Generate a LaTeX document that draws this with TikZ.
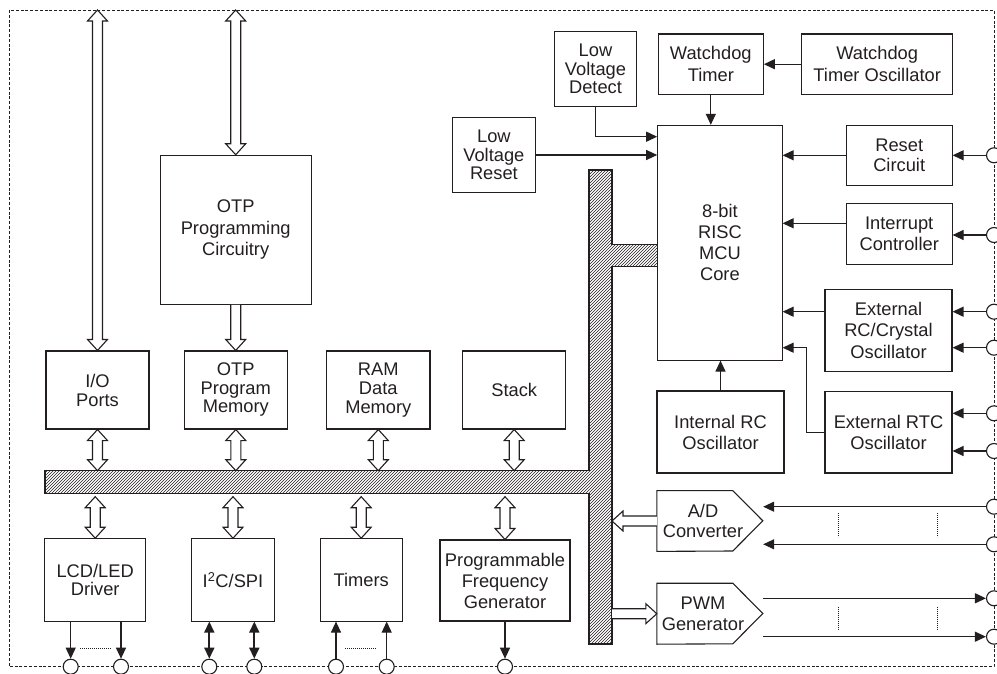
\documentclass[tikz,border=0pt]{standalone}
\usepackage{fontspec}
\setmainfont{Liberation Sans}
\usetikzlibrary{arrows.meta,patterns,calc}
\definecolor{ink}{HTML}{231F20}
\tikzset{
  blk/.style={draw=ink, line width=1.1pt, align=center, inner sep=1pt, text=ink,
    font=\fontsize{18.3}{20.5}\selectfont},
  txt/.style={align=center, inner sep=1pt, text=ink, font=\fontsize{18.3}{20.5}\selectfont},
  brd/.style={draw=ink, line width=0.9pt, dash pattern=on 3pt off 1.8pt},
  bus/.style={draw=ink, line width=1.1pt, pattern=north east lines, pattern color=ink},
  hol/.style={draw=ink, fill=white, line width=1.1pt, line join=miter},
  sarr/.style={draw=ink, line width=1.2pt, ->},
  darr/.style={draw=ink, line width=1.7pt, <->},
  term/.style={circle, draw=ink, fill=white, line width=1.1pt, minimum size=15, inner sep=0pt},
  dots/.style={draw=ink, line width=0.8pt, dash pattern=on 0.8pt off 1.2pt},
  >={Triangle[length=11pt,width=10pt]}
}
% vertical hollow arrow, heads at both ends (#1 top, #2 bottom)
\newcommand\vdbl[2]{\draw[hol] let \p1=(#1), \p2=(#2) in
  (\x1,\y1) -- (\x1-10pt,\y1-11pt) -- (\x1-5pt,\y1-11pt) -- (\x1-5pt,\y2+11pt)
  -- (\x1-10pt,\y2+11pt) -- (\x1,\y2) -- (\x1+10pt,\y2+11pt) -- (\x1+5pt,\y2+11pt)
  -- (\x1+5pt,\y1-11pt) -- (\x1+10pt,\y1-11pt) -- cycle;}
% vertical hollow arrow, head at bottom
\newcommand\vdn[2]{\draw[hol] let \p1=(#1), \p2=(#2) in
  (\x1-5pt,\y1) -- (\x1-5pt,\y2+11pt) -- (\x1-10pt,\y2+11pt) -- (\x1,\y2)
  -- (\x1+10pt,\y2+11pt) -- (\x1+5pt,\y2+11pt) -- (\x1+5pt,\y1);}
% horizontal hollow arrow, tip to the left (#1 tail, #2 tip)
\newcommand\hlt[2]{\draw[hol] let \p1=(#1), \p2=(#2) in
  (\x1,\y1+5pt) -- (\x2+11pt,\y1+5pt) -- (\x2+11pt,\y1+10pt) -- (\x2,\y1)
  -- (\x2+11pt,\y1-10pt) -- (\x2+11pt,\y1-5pt) -- (\x1,\y1-5pt);}
% horizontal hollow arrow, tip to the right (#1 tail, #2 tip)
\newcommand\hrt[2]{\draw[hol] let \p1=(#1), \p2=(#2) in
  (\x1,\y1+5pt) -- (\x2-11pt,\y1+5pt) -- (\x2-11pt,\y1+10pt) -- (\x2,\y1)
  -- (\x2-11pt,\y1-10pt) -- (\x2-11pt,\y1-5pt) -- (\x1,\y1-5pt);}
\begin{document}
\begin{tikzpicture}[x=1pt,y=-1pt]
\useasboundingbox (0,0) rectangle (997,674);
\coordinate (tb) at (0,10);
\coordinate (bt) at (0,470.7);
\coordinate (bb) at (0,493.7);
\coordinate (be) at (612,0);
\coordinate (lvdy) at (0,136.7);
\coordinate (icy) at (0,223.3);
\coordinate (rtcbend) at (806.7,347.7);

% outer dashed border
\draw[brd] (9,10) rectangle (994,666.7);

% internal bus
\draw[bus] (45,470.7) -- (589,470.7) -- (589,170) -- (612,170) -- (612,244.3)
  -- (657.7,244.3) -- (657.7,266.7) -- (612,266.7) -- (612,644) -- (589,644)
  -- (589,493.7) -- (45,493.7) -- cycle;

% blocks
\node[blk, minimum width=151.3, minimum height=149, font=\fontsize{18.3}{21.5}\selectfont] (otpprog) at (235.7,229.8) {OTP\\Programming\\Circuitry};
\node[blk, minimum width=103, minimum height=78, font=\fontsize{18.3}{19}\selectfont] (io) at (97.5,390) {I/O\\Ports};
\node[blk, minimum width=103, minimum height=78, font=\fontsize{18.3}{18.5}\selectfont] (otpmem) at (235.8,390) {OTP\\Program\\Memory};
\node[blk, minimum width=103.3, minimum height=78, font=\fontsize{18.3}{19}\selectfont] (ram) at (378.3,390) {RAM\\Data\\Memory};
\node[blk, minimum width=103, minimum height=78] (stack) at (514.2,390) {Stack};
\node[blk, minimum width=101, minimum height=82.3, font=\fontsize{18.3}{17.5}\selectfont] (lcd) at (95.2,579.9) {LCD/LED\\Driver};
\node[blk, minimum width=82.6, minimum height=82.3] (i2c) at (233,579.9) {I\textsuperscript{2}C/SPI};
\node[blk, minimum width=82.3, minimum height=82.3] (timers) at (361.2,579.9) {Timers};
\node[blk, minimum width=130, minimum height=81, font=\fontsize{18.3}{21}\selectfont] (pfg) at (505,580.5) {Programmable\\Frequency\\Generator};
\node[blk, minimum width=82.4, minimum height=75.4, font=\fontsize{18.3}{18.3}\selectfont] (lvd) at (595.5,69) {Low\\Voltage\\Detect};
\node[blk, minimum width=82.3, minimum height=75.4, font=\fontsize{18.3}{18.3}\selectfont] (lvr) at (493.9,155) {Low\\Voltage\\Reset};
\node[blk, minimum width=105, minimum height=60.3, font=\fontsize{18.3}{22.5}\selectfont] (wdt) at (710.8,64.2) {Watchdog\\Timer};
\node[blk, minimum width=151, minimum height=60.3, font=\fontsize{18.3}{22}\selectfont] (wdtosc) at (877.2,64.2) {Watchdog\\Timer Oscillator};
\node[blk, minimum width=124.3, minimum height=234.7, font=\fontsize{18.3}{21}\selectfont] (core) at (719.9,242.7) {8-bit\\RISC\\MCU\\Core};
\node[blk, minimum width=105.7, minimum height=60] (reset) at (899.2,155.3) {Reset\\Circuit};
\node[blk, minimum width=105.7, minimum height=60.7] (intc) at (899.2,233.7) {Interrupt\\Controller};
\node[blk, minimum width=127, minimum height=81.7, font=\fontsize{18.3}{21.5}\selectfont] (extrc) at (888.5,330.2) {External\\RC/Crystal\\Oscillator};
\node[blk, minimum width=127, minimum height=82, font=\fontsize{18.3}{21}\selectfont] (intrc) at (720.5,432) {Internal RC\\Oscillator};
\node[blk, minimum width=127, minimum height=81.3, font=\fontsize{18.3}{21}\selectfont] (rtc) at (888.5,432.3) {External RTC\\Oscillator};

% pentagon blocks
\node[txt, minimum width=92, minimum height=60.4] (ad) at (703,521) {A/D\\Converter};
\draw[draw=ink, line width=1.1pt, line join=miter] (ad.north west) -- ++(76,0) -- ++(30,30.2) -- ++(-30,30.2) -- (ad.south west) -- cycle;
\coordinate (adtip) at ($(ad.east)+(14,0)$);
\node[txt, minimum width=92, minimum height=60.6] (pwm) at (703,613.7) {PWM\\Generator};
\draw[draw=ink, line width=1.1pt, line join=miter] (pwm.north west) -- ++(76,0) -- ++(30,30.3) -- ++(-30,30.3) -- (pwm.south west) -- cycle;
\coordinate (pwmtip) at ($(pwm.east)+(14,0)$);

% hollow bus arrows
\vdbl{io.north |- tb}{io.north}
\vdbl{otpprog.north |- tb}{otpprog.north}
\vdn{otpprog.south}{otpmem.north}
\vdbl{io.south}{io.south |- bt}
\vdbl{otpmem.south}{otpmem.south |- bt}
\vdbl{ram.south}{ram.south |- bt}
\vdbl{stack.south}{stack.south |- bt}
\vdbl{$(lcd.north |- bb)+(0,3)$}{lcd.north}
\vdbl{$(i2c.north |- bb)+(0,3)$}{i2c.north}
\vdbl{$(timers.north |- bb)+(0,3)$}{timers.north}
\vdbl{$(pfg.north |- bb)+(0,3)$}{pfg.north}
\hlt{ad.west}{be |- ad.west}
\hrt{be |- pwm.west}{pwm.west}

% bottom terminals
\node[term] (b1) at (70.7,666.7) {};
\node[term] (b2) at (121,666.7) {};
\node[term] (b3) at (209.3,666.7) {};
\node[term] (b4) at (254.3,666.7) {};
\node[term] (b5) at (336,666.7) {};
\node[term] (b6) at (386.7,666.7) {};
\node[term] (b7) at (505,666.7) {};

% right terminals
\node[term] (r1) at (994,155.3) {};
\node[term] (r2) at (994,235) {};
\node[term] (r3) at (994,311.7) {};
\node[term] (r4) at (994,347.7) {};
\node[term] (r5) at (994,413.3) {};
\node[term] (r6) at (994,451) {};
\node[term] (r7) at (994,506.7) {};
\node[term] (r8) at (994,544.3) {};
\node[term] (r9) at (994,598.3) {};
\node[term] (r10) at (994,636.7) {};

% control connections
\draw[sarr] (lvd.south) |- (core.west |- lvdy);
\draw[sarr] (lvr.east) -- (core.west |- lvr.east);
\draw[sarr] (wdt.south) -- (wdt.south |- core.north);
\draw[sarr] (wdtosc.west) -- (wdt.east |- wdtosc.west);
\draw[sarr] (reset.west) -- (core.east |- reset.west);
\draw[sarr] (intc.west |- icy) -- (core.east |- icy);
\draw[sarr] (extrc.west |- r3) -- (core.east |- r3);
\draw[sarr] (rtc.west) -| (rtcbend) -- (core.east |- rtcbend);
\draw[sarr] (intrc.north) -- (intrc.north |- core.south);

% right pin connections
\draw[sarr] (r1.west) -- (reset.east |- r1);
\draw[sarr] (r2.west) -- (intc.east |- r2);
\draw[sarr] (r3.west) -- (extrc.east |- r3);
\draw[sarr] (r4.west) -- (extrc.east |- r4);
\draw[sarr] (r5.west) -- (rtc.east |- r5);
\draw[sarr] (r6.west) -- (rtc.east |- r6);
\draw[sarr] (r7.west) -- (adtip |- r7);
\draw[sarr] (r8.west) -- (adtip |- r8);
\draw[sarr] (pwmtip |- r9) -- (r9.west);
\draw[sarr] (pwmtip |- r10) -- (r10.west);

% bottom pin connections
\draw[sarr] (lcd.south -| b1) -- (b1.north);
\draw[sarr] (lcd.south -| b2) -- (b2.north);
\draw[darr] (i2c.south -| b3) -- (b3.north);
\draw[darr] (i2c.south -| b4) -- (b4.north);
\draw[sarr] (b5.north) -- (timers.south -| b5);
\draw[sarr] (b6.north) -- (timers.south -| b6);
\draw[sarr] (pfg.south) -- (b7.north);

% dotted continuation marks
\draw[dots] (80,648.3) -- (110.7,648.3);
\draw[dots] (345,648.3) -- (376,648.3);
\draw[dots] (838.7,513) -- (838.7,537);
\draw[dots] (937.3,513) -- (937.3,537);
\draw[dots] (838.7,606.7) -- (838.7,629.3);
\draw[dots] (937.3,606.7) -- (937.3,629.3);
\end{tikzpicture}
\end{document}
